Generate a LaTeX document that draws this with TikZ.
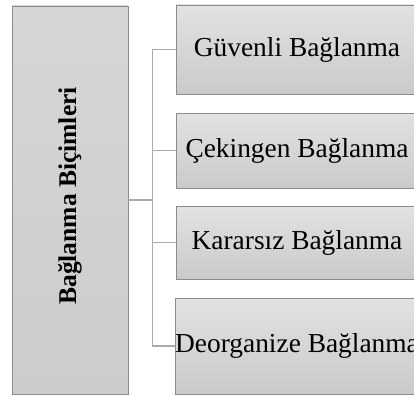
\documentclass[tikz,border=0pt]{standalone}
\usepackage{fontspec}
\setmainfont{Liberation Serif}
\definecolor{boxline}{HTML}{8C8C8C}
\definecolor{linkline}{HTML}{ABABAB}
\definecolor{boxtop}{HTML}{E2E2E2}
\definecolor{boxbot}{HTML}{CACACA}
\definecolor{maintop}{HTML}{D6D6D6}
\definecolor{mainbot}{HTML}{CCCCCC}
\begin{document}
\begin{tikzpicture}[x=1pt,y=-1pt,
  mainbox/.style={draw=boxline,line width=0.9pt,top color=maintop,bottom color=mainbot,
    minimum width=116pt,minimum height=388pt,inner sep=0pt},
  itembox/.style={draw=boxline,line width=0.9pt,top color=boxtop,bottom color=boxbot,
    minimum width=242pt,inner sep=0pt,font=\fontsize{27.4}{30}\selectfont},
  link/.style={draw=linkline,line width=1.6pt}]
\useasboundingbox (0,0) rectangle (414,396);
\begin{scope}
\clip (0,0) rectangle (414,396);
\node[mainbox] (main) at (70,200) {};
\node[rotate=90,font=\fontsize{25.5}{28}\selectfont\bfseries] (mtext) at (70,196) {Bağlanma Biçimleri};
\node[itembox,minimum height=89pt] (b1) at (297,49.5) {Güvenli Bağlanma};
\node[itembox,minimum height=75pt] (b2) at (297,150.5) {Çekingen Bağlanma};
\node[itembox,minimum height=73pt] (b3) at (297,242.5) {Kararsız Bağlanma};
\node[itembox,minimum height=96pt] (b4) at (297,346) {Deorganize Bağlanma};
\coordinate (j) at (152.5,200);
\draw[link] (main.east) -- (j);
\draw[link] (b1.west) -| (j);
\draw[link] (b2.west) -| (j);
\draw[link] (b3.west) -| (j);
\draw[link] (b4.west) -| (j);
\end{scope}
\end{tikzpicture}
\end{document}
